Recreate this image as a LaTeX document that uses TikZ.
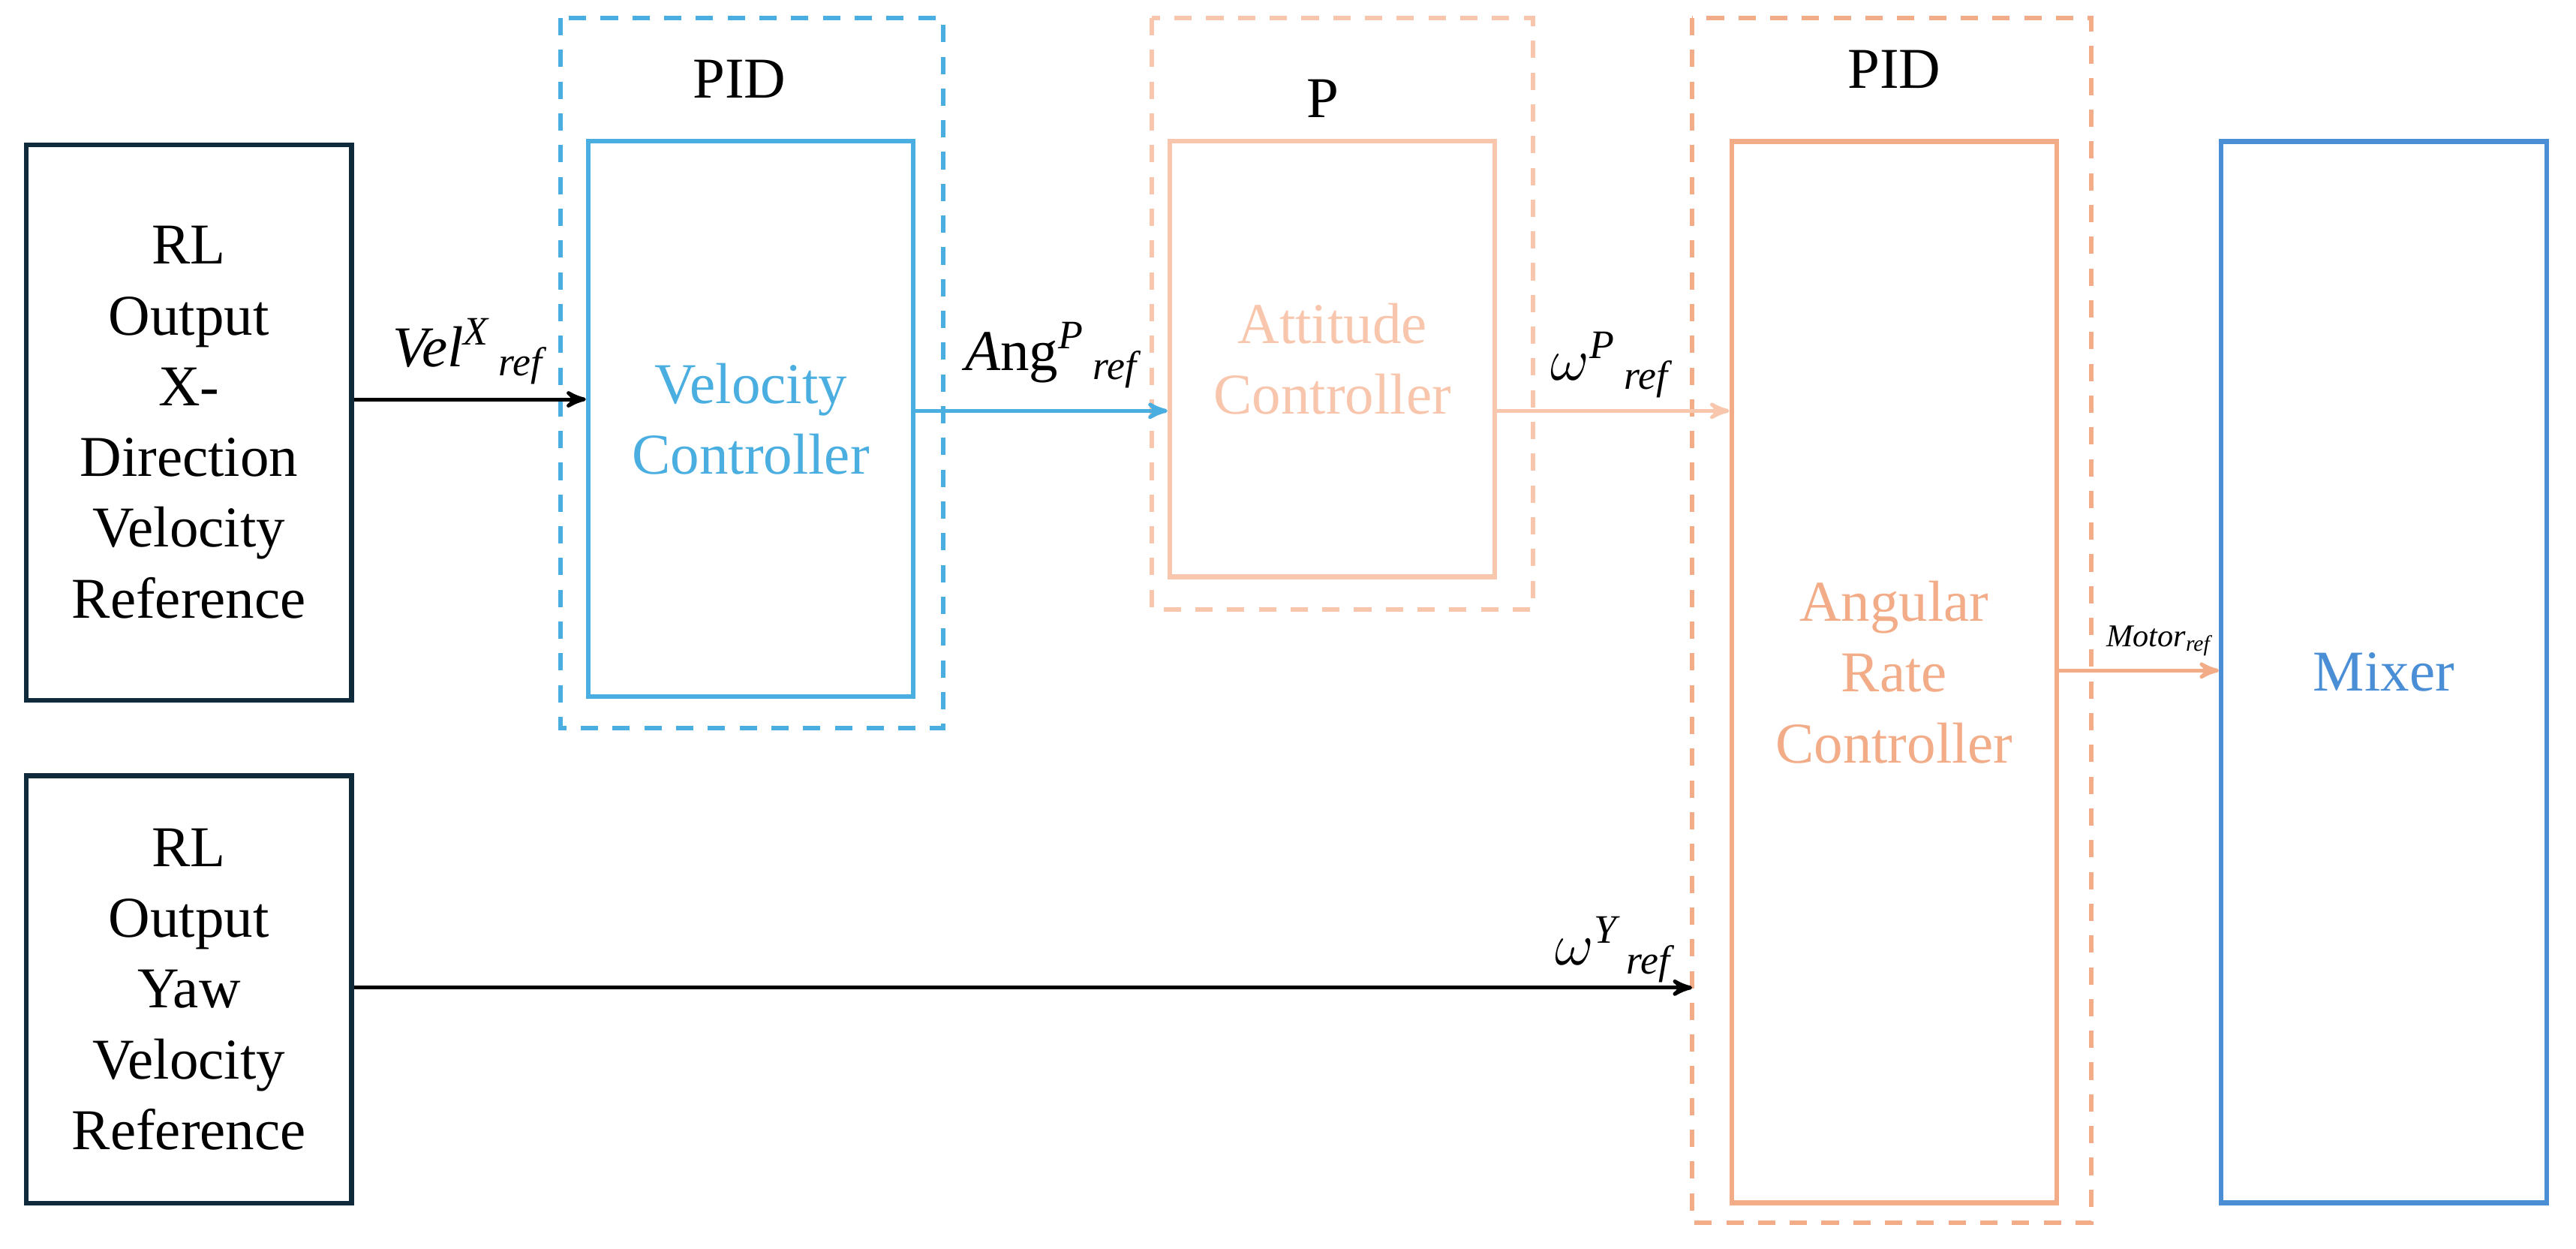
\documentclass[tikz,border=0pt]{standalone}
\usepackage{fontspec}
\setmainfont{Liberation Serif}
\newfontfamily\tms{Liberation Serif}
\usetikzlibrary{positioning, arrows}
\definecolor{dark}{HTML}{0F2A3A}
\definecolor{velblue}{HTML}{4AAEE0}
\definecolor{attpeach}{HTML}{F8C6AC}
\definecolor{angpeach}{HTML}{F2AC88}
\definecolor{mixblue}{HTML}{4A8FD6}
\newcommand{\refsig}[2]{#1\textsuperscript{\itshape #2}\textsubscript{\itshape\hspace{3pt}ref}}
\tikzset {
    >=stealth',
    x=0.02cm, y=-0.02cm,
    every node/.style={font=\tms},
    block/.style={draw, line width=1.6pt, minimum width=3.96cm, align=center,
        font=\tms\fontsize{20}{24.5}\selectfont, inner sep=0pt},
    group/.style={draw, dashed, line width=1.6pt, dash pattern=on 6pt off 5pt},
    sig/.style={->, line width=1.3pt},
    lbl/.style={font=\tms\fontsize{20}{22}\selectfont},
    head/.style={font=\tms\fontsize{20}{22}\selectfont}
}
\begin{document}
\begin{tikzpicture}
    \useasboundingbox (0,0) rectangle (1568,760);
    % groups
    \draw[group, velblue] (341,11) rectangle (574,443);
    \draw[group, attpeach] (701,11) rectangle (933,371);
    \draw[group, angpeach] (1030,11) rectangle (1273,744);
    \node[head] (pid1) at (450,48) {PID};
    \node[head] (p1) at (805,60) {P};
    \node[head] (pid2) at (1153,42) {PID};

    % blocks
    \node[block, dark, text=black, minimum height=6.76cm] (rlx) at (115,257) {RL\\Output\\X-\\Direction\\Velocity\\Reference};
    \node[block, dark, text=black, minimum height=5.2cm] (rly) at (115,602) {RL\\Output\\Yaw\\Velocity\\Reference};
    \node[block, velblue, minimum height=6.76cm] (vel) at (457,255) {Velocity\\Controller};
    \node[block, attpeach, minimum height=5.3cm] (att) at (811,218.5) {Attitude\\Controller};
    \node[block, angpeach, minimum height=12.92cm] (ang) at (1153,409) {Angular\\Rate\\Controller};
    \node[block, mixblue, minimum height=12.92cm] (mix) at (1451,409) {Mixer};

    \coordinate (ya) at (0,243);
    \coordinate (yb) at (0,250);
    \coordinate (yc) at (0,408);
    \coordinate (yd) at (0,601);
    \coordinate (yw) at (1030,601);

    \draw[sig, black] (rlx.east |- ya) -- (vel.west |- ya);
    \draw[sig, velblue] (vel.east |- yb) -- (att.west |- yb);
    \draw[sig, attpeach] (att.east |- yb) -- (ang.west |- yb);
    \draw[sig, angpeach] (ang.east |- yc) -- (mix.west |- yc);
    \draw[sig, black] (rly.east |- yd) -- (yw);

    \node[lbl] (velref) at (285,214) {\refsig{\textit{Vel}}{X}};
    \node[lbl] (angref) at (640,216) {\refsig{\textit{A}ng}{P}};
    \node[lbl] (wpref) at (980,222) {\refsig{$\omega$}{P}};
    \node[font=\tms\fontsize{11}{12}\selectfont] (motref) at (1314,390) {\textit{Motor}\textsubscript{\itshape ref}};
    \node[lbl] (wyref) at (982,578) {\refsig{$\omega$}{Y}};
\end{tikzpicture}
\end{document}
